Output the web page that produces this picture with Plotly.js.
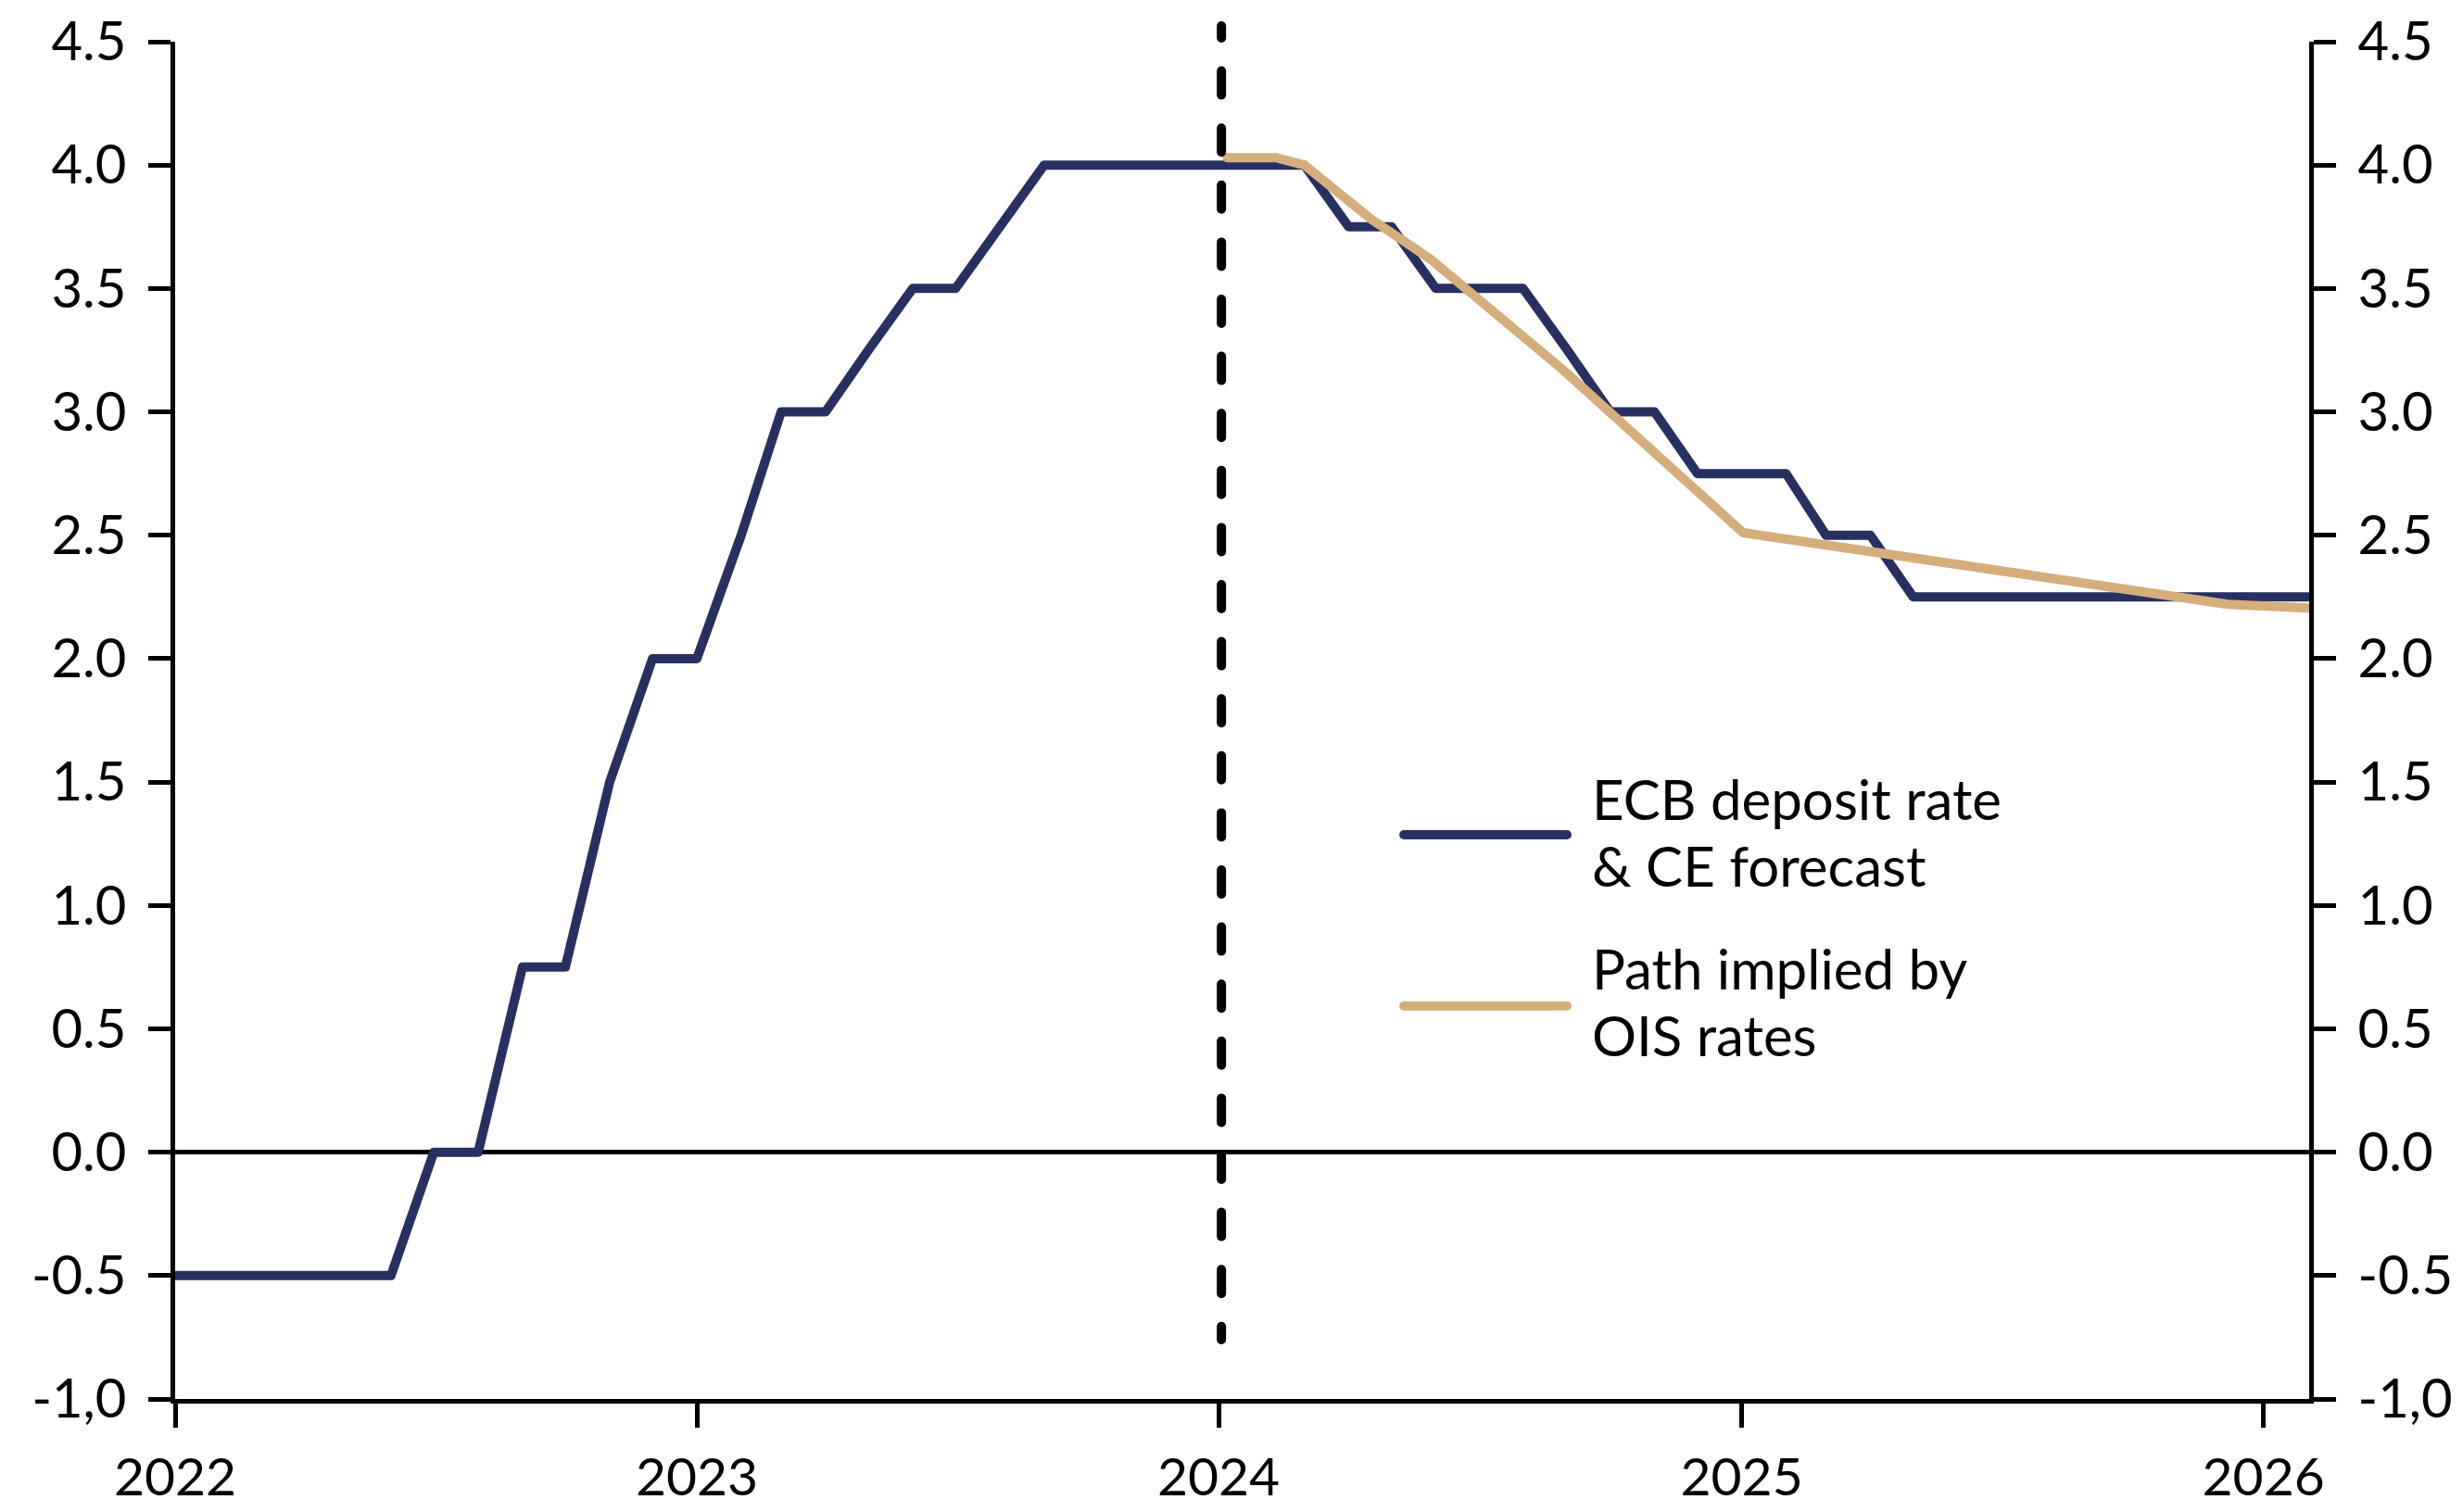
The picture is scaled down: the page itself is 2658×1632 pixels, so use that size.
<!DOCTYPE html>
<html>
<head>
<meta charset="utf-8">
<script src="https://cdn.plot.ly/plotly-3.0.1.min.js"></script>
<style>
  html, body { margin: 0; padding: 0; background: #ffffff; }
  #chart { width: 2658px; height: 1632px; }
  .scatterlayer path.js-line { stroke-linejoin: round; stroke-linecap: round; }
  .shapelayer path { stroke-linecap: round; }
</style>
</head>
<body>
<div id="chart"></div>
<script>
// ---------- DATA ----------
const navyDates = [
  '2022-01-01','2022-02-01','2022-03-01','2022-04-01','2022-05-01','2022-06-01',
  '2022-07-01','2022-08-01','2022-09-01','2022-10-01','2022-11-01','2022-12-01',
  '2023-01-01','2023-02-01','2023-03-01','2023-04-01','2023-05-01','2023-06-01',
  '2023-07-01','2023-08-01','2023-09-01','2023-10-01','2023-11-01','2023-12-01',
  '2024-01-01','2024-02-01','2024-03-01','2024-04-01','2024-05-01','2024-06-01',
  '2024-07-01','2024-08-01','2024-09-01','2024-10-01','2024-11-01','2024-12-01',
  '2025-01-01','2025-02-01','2025-03-01','2025-04-01','2025-05-01','2025-06-01',
  '2025-07-01','2025-08-01','2025-09-01','2025-10-01','2025-11-01','2025-12-01',
  '2026-01-01','2026-02-01'
];
const navyValues = [
  -0.5, -0.5, -0.5, -0.5, -0.5, -0.5,
  0.0, 0.0, 0.75, 0.75, 1.5, 2.0,
  2.0, 2.5, 3.0, 3.0, 3.25, 3.5,
  3.5, 3.75, 4.0, 4.0, 4.0, 4.0,
  4.0, 4.0, 4.0, 3.75, 3.75, 3.5,
  3.5, 3.5, 3.25, 3.0, 3.0, 2.75,
  2.75, 2.75, 2.5, 2.5, 2.25, 2.25,
  2.25, 2.25, 2.25, 2.25, 2.25, 2.25,
  2.25, 2.25
];
const oisDates = ['2024-01-07','2024-02-10','2024-03-01','2024-04-17','2024-05-28',
                  '2024-08-29','2025-01-02','2025-12-07','2026-02-01'];
const oisValues = [4.03, 4.03, 4.00, 3.78, 3.62, 3.17, 2.51, 2.22, 2.205];

const seriesNames = ['ECB deposit rate<br>& CE forecast', 'Path implied by<br>OIS rates'];
const seriesColors = ['#273061', '#D6AE7C'];

const yearTicks = ['2022-01-01','2023-01-01','2024-01-01','2025-01-01','2026-01-01'];
const yearLabels = ['2022','2023','2024','2025','2026'];
const yTicks = [-1, -0.5, 0, 0.5, 1, 1.5, 2, 2.5, 3, 3.5, 4, 4.5];
const yLabels = ['-1,0','-0.5','0.0','0.5','1.0','1.5','2.0','2.5','3.0','3.5','4.0','4.5'];
const xRange = ['2022-01-01', '2026-02-02'];
const yRange = [-1, 4.5];
const forecastStart = '2024-01-03';

// ---------- STYLE ----------
const FONT = 'Lato, "Open Sans", sans-serif';
const TICK_SIZE = 58;
const XTICK_SIZE = 57;
const LEG_SIZE = 60;

const traces = [
  {
    x: navyDates, y: navyValues, type: 'scatter', mode: 'lines',
    name: seriesNames[0], line: { color: seriesColors[0], width: 10 },
    showlegend: false, hoverinfo: 'skip'
  },
  {
    x: oisDates, y: oisValues, type: 'scatter', mode: 'lines',
    name: seriesNames[1], line: { color: seriesColors[1], width: 10 },
    showlegend: false, hoverinfo: 'skip'
  },
  {
    x: [], y: [], type: 'scatter', mode: 'lines', yaxis: 'y2',
    showlegend: false, hoverinfo: 'skip'
  }
];

// dashed line pattern (round caps add 5px each side)
const dashParts = [13, 35.6];
for (let i = 0; i < 24; i++) { dashParts.push(26, 35.6); }
const dashStr = dashParts.map(v => v + 'px').join(',');

const axisCommon = {
  showline: true, linecolor: '#000', linewidth: 5,
  ticks: 'outside', tickcolor: '#000', tickwidth: 5,
  showgrid: false, tickfont: { family: FONT, size: TICK_SIZE, color: '#000' },
  fixedrange: true
};

// legend: line sample positions (paper) and per-line text centres (paper)
const legendSampleY = [0.4157, 0.2896];
const legendLineY = [[0.4423, 0.3935], [0.3171, 0.2686]];
const legendShapes = [];
const legendAnnots = [];
seriesNames.forEach((nm, i) => {
  legendShapes.push({ type: 'line', xref: 'paper', yref: 'paper', x0: 0.5758, x1: 0.6522,
    y0: legendSampleY[i], y1: legendSampleY[i], line: { color: seriesColors[i], width: 10 } });
  nm.split('<br>').forEach((ln, j) => {
    legendAnnots.push({ xref: 'paper', yref: 'paper', x: 0.663, y: legendLineY[i][j],
      xanchor: 'left', yanchor: 'middle', align: 'left', showarrow: false, text: ln,
      font: { family: FONT, size: LEG_SIZE, color: '#000' } });
  });
});

const layout = {
  width: 2658, height: 1632,
  margin: { l: 189, r: 166, t: 45, b: 122, pad: 0 },
  paper_bgcolor: '#ffffff', plot_bgcolor: '#ffffff',
  font: { family: FONT, color: '#000' },
  showlegend: false,
  xaxis: Object.assign({}, axisCommon, {
    type: 'date', range: xRange, tickmode: 'array',
    tickvals: yearTicks, ticktext: yearLabels, ticklen: 26,
    zeroline: false, ticklabelstandoff: 5,
    tickfont: { family: FONT, size: XTICK_SIZE, color: '#000' }
  }),
  yaxis: Object.assign({}, axisCommon, {
    range: yRange, tickmode: 'array', tickvals: yTicks, ticktext: yLabels,
    ticklen: 24, zeroline: true, zerolinecolor: '#000', zerolinewidth: 5,
    ticklabelstandoff: 12
  }),
  yaxis2: Object.assign({}, axisCommon, {
    range: yRange, tickmode: 'array', tickvals: yTicks, ticktext: yLabels,
    ticklen: 24, zeroline: false, overlaying: 'y', side: 'right', anchor: 'x',
    ticklabelstandoff: 12
  }),
  shapes: [
    { type: 'line', xref: 'x', yref: 'paper', x0: forecastStart, x1: forecastStart,
      y0: 1.0116, y1: 0.0437, line: { color: '#000', width: 10, dash: dashStr }, layer: 'above' }
  ].concat(legendShapes),
  annotations: legendAnnots
};

Plotly.newPlot('chart', traces, layout, { staticPlot: true, displayModeBar: false });
</script>
</body>
</html>
